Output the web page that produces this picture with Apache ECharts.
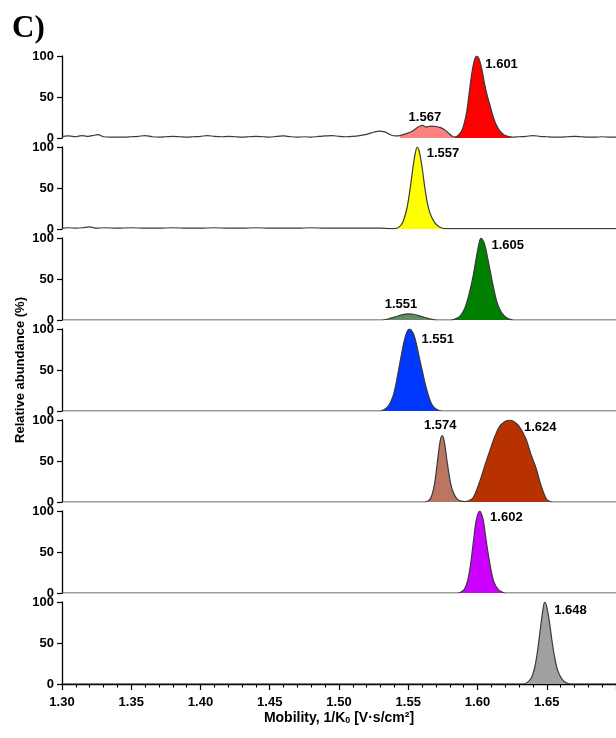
<!DOCTYPE html>
<html>
<head>
<meta charset="utf-8">
<script src="https://cdn.jsdelivr.net/npm/echarts@6/dist/echarts.min.js"></script>
<style>
html,body{margin:0;padding:0;background:#fff}
#main{width:616px;height:738px}
</style>
</head>
<body>
<div id="main"></div>
<script>
// x range of the mobility axis
var xMin = 1.30, xMax = 1.70;
var yTicks = [0, 50, 100];

// panel 1 : 1.567 (pink) + 1.601 (red), noisy baseline
var p1Left = [[1.300,2],[1.305,2.5],[1.310,1.5],[1.314,3],[1.318,2],[1.322,3],[1.326,4],[1.330,1.5],[1.335,1],[1.340,1],[1.345,1],[1.350,1.5],[1.355,2],[1.360,3],[1.365,1.5],[1.370,1],[1.375,1.5],[1.380,2],[1.385,1.5],[1.390,1],[1.395,1.5],[1.400,2],[1.405,3],[1.410,2],[1.415,1.5],[1.420,2],[1.425,1.5],[1.430,1],[1.435,1.5],[1.440,2],[1.445,1.5],[1.450,1],[1.455,2],[1.460,2.5],[1.465,1.5],[1.470,1],[1.475,1.5],[1.480,1],[1.485,2],[1.490,2.5],[1.495,3],[1.500,2],[1.505,1.5],[1.510,2],[1.515,3],[1.520,4.5],[1.525,7],[1.529,8.5],[1.533,7.5],[1.537,4],[1.541,2.5]];
var p1Pink = [[1.544,3],[1.548,5],[1.5525,8],[1.556,12],[1.559,15],[1.5605,15.5],[1.5625,13.5],[1.565,14],[1.567,14.5],[1.570,14],[1.5727,13],[1.576,10.5],[1.579,6],[1.5815,2.5],[1.5835,1]];
var p1Red = [[1.5835,1],[1.586,3],[1.589,10],[1.592,30],[1.594,55],[1.596,80],[1.598,96],[1.5995,100],[1.601,97],[1.603,85],[1.605,67],[1.607,52],[1.609,40],[1.611,28],[1.613,18],[1.616,9],[1.619,4],[1.622,2],[1.625,1]];
var p1Right = [[1.630,1.5],[1.635,2],[1.640,3],[1.645,2],[1.650,1.5],[1.655,1],[1.660,1],[1.665,1.5],[1.670,2],[1.675,1.5],[1.680,1],[1.685,1],[1.690,1.5],[1.695,1],[1.700,1]];

// panel 2 : 1.557 (yellow)
var p2Left = [[1.300,1],[1.305,1.5],[1.310,1],[1.315,1.5],[1.320,2.5],[1.325,1],[1.330,1.5],[1.340,1],[1.350,1.5],[1.360,1],[1.370,1],[1.380,1.5],[1.390,1],[1.400,1],[1.410,1.5],[1.420,1],[1.430,1],[1.440,1.5],[1.450,1],[1.460,1],[1.470,1],[1.480,1.5],[1.490,1],[1.500,1],[1.510,1],[1.520,1],[1.530,1],[1.537,0.5]];
var p2Yellow = [[1.540,0.5],[1.543,2],[1.546,8],[1.549,25],[1.551,45],[1.553,70],[1.555,92],[1.5565,100],[1.558,94],[1.560,75],[1.562,50],[1.564,30],[1.566,18],[1.569,8],[1.572,3],[1.576,0.5]];
var p2Right = [[1.590,0.5],[1.620,0.5],[1.660,0.5],[1.700,0.5]];

// panel 3 : 1.551 (grey green) + 1.605 (green)
var p3DkGreen = [[1.531,0],[1.536,1.5],[1.541,4],[1.546,6.5],[1.550,7.5],[1.554,7],[1.558,5],[1.562,3],[1.566,1.2],[1.571,0]];
var p3Green = [[1.581,0],[1.585,2],[1.588,6],[1.591,15],[1.594,32],[1.597,55],[1.600,84],[1.6025,100],[1.605,93],[1.608,70],[1.611,44],[1.614,22],[1.617,10],[1.620,4],[1.623,1],[1.626,0]];

// panel 4 : 1.551 (blue)
var p4Blue = [[1.530,0],[1.533,2],[1.536,7],[1.539,18],[1.541,32],[1.543,50],[1.545,68],[1.547,85],[1.549,96],[1.5505,100],[1.552,99],[1.554,93],[1.556,81],[1.558,65],[1.560,50],[1.562,35],[1.564,22],[1.566,12],[1.568,5.5],[1.571,1.5],[1.574,0]];

// panel 5 : 1.574 (brown) + 1.624 (dark red)
var p5Brown = [[1.562,0],[1.565,2],[1.567,8],[1.569,22],[1.571,48],[1.573,74],[1.5745,81],[1.576,74],[1.578,50],[1.580,28],[1.582,14],[1.585,4],[1.588,1],[1.5905,0.5]];
var p5DkRed = [[1.5905,0.5],[1.5933,1],[1.5968,5],[1.6016,25],[1.6052,44],[1.6088,62],[1.6123,79],[1.6159,92],[1.6195,98],[1.6231,100],[1.6265,98],[1.6302,92],[1.635,77],[1.6386,58],[1.6422,42],[1.6457,21],[1.6493,5],[1.6517,1],[1.655,0]];

// panel 6 : 1.602 (purple)
var p6Purple = [[1.586,0],[1.589,2],[1.591,6],[1.593,16],[1.595,35],[1.597,62],[1.599,88],[1.6015,100],[1.604,90],[1.606,67],[1.608,45],[1.610,26],[1.612,13],[1.615,4],[1.618,1],[1.620,0]];

// panel 7 : 1.648 (grey)
var p7Grey = [[1.633,0],[1.636,2],[1.639,8],[1.641,18],[1.643,36],[1.645,62],[1.647,88],[1.6485,100],[1.650,94],[1.652,75],[1.654,50],[1.656,30],[1.658,16],[1.661,6],[1.664,1.5],[1.667,0]];

var flatStart = [[1.300,0]];
var flatEnd = [[1.700,0]];

var panels = [
  {trace: p1Left.concat(p1Pink, p1Red, p1Right),
   peaks: [
     {data: p1Pink, color: '#ff8080', text: '1.567', at: [1.562, 15], pos: 'top', dist: 1, off: [0, 0]},
     {data: p1Red, color: '#ff0000', text: '1.601', at: [1.5995, 100], pos: 'right', dist: 5, off: [3, 8]}
   ]},
  {trace: p2Left.concat(p2Yellow, p2Right),
   peaks: [
     {data: p2Yellow, color: '#ffff00', text: '1.557', at: [1.5565, 100], pos: 'right', dist: 5, off: [4, 6]}
   ]},
  {trace: flatStart.concat(p3DkGreen, p3Green, flatEnd),
   peaks: [
     {data: p3DkGreen, color: '#668c66', text: '1.551', at: [1.5448, 8], pos: 'top', dist: 2, off: [0, 0]},
     {data: p3Green, color: '#008000', text: '1.605', at: [1.6025, 100], pos: 'right', dist: 5, off: [5, 7]}
   ]},
  {trace: flatStart.concat(p4Blue, flatEnd),
   peaks: [
     {data: p4Blue, color: '#0038ff', text: '1.551', at: [1.5505, 100], pos: 'right', dist: 5, off: [7, 10]}
   ]},
  {trace: flatStart.concat(p5Brown, p5DkRed, flatEnd),
   peaks: [
     {data: p5Brown, color: '#bc7560', text: '1.574', at: [1.5731, 81], pos: 'top', dist: 3, off: [0, 0]},
     {data: p5DkRed, color: '#b83200', text: '1.624', at: [1.6231, 100], pos: 'right', dist: 5, off: [9, 7]}
   ]},
  {trace: flatStart.concat(p6Purple, flatEnd),
   peaks: [
     {data: p6Purple, color: '#cc00ff', text: '1.602', at: [1.6015, 100], pos: 'right', dist: 5, off: [5, 6]}
   ]},
  {trace: flatStart.concat(p7Grey, flatEnd),
   peaks: [
     {data: p7Grey, color: '#a0a0a0', text: '1.648', at: [1.6485, 100], pos: 'right', dist: 5, off: [4, 8]}
   ]}
];

var font = 'Liberation Sans';
var grids = [], xAxes = [], yAxes = [], series = [];
var last = panels.length - 1;

panels.forEach(function (p, i) {
  grids.push({left: 62, width: 559, top: 56 + i * 91, height: 82, containLabel: false});
  var xa = {
    type: 'value', gridIndex: i, min: xMin, max: xMax, interval: 0.05,
    splitLine: {show: false}, show: i === last
  };
  if (i === last) {
    xa.offset = 1;
    xa.axisLine = {show: true, lineStyle: {color: '#000', width: 1.3}};
    xa.axisTick = {show: true, length: 6, lineStyle: {color: '#000', width: 1.2}};
    xa.minorTick = {show: true, splitNumber: 5, length: 3.5, lineStyle: {color: '#000', width: 1.1}};
    xa.minorSplitLine = {show: false};
    xa.axisLabel = {
      margin: 11, showMaxLabel: false, color: '#000', fontFamily: font,
      fontWeight: 'bold', fontSize: 13,
      formatter: function (v) { return v.toFixed(2); }
    };
    xa.name = 'Mobility, 1/K{sub|0} [V·s/cm²]';
    xa.nameLocation = 'middle';
    xa.nameGap = 26;
    xa.nameTextStyle = {
      color: '#000', fontFamily: font, fontWeight: 'bold', fontSize: 14,
      rich: {sub: {fontSize: 9, fontWeight: 'bold', fontFamily: font, color: '#000', verticalAlign: 'bottom', padding: [5, 0, 0, 0]}}
    };
  }
  xAxes.push(xa);
  yAxes.push({
    type: 'value', gridIndex: i, min: yTicks[0], max: yTicks[2], interval: 50,
    splitLine: {show: false},
    axisLine: {show: true, lineStyle: {color: '#000', width: 1.3}},
    axisTick: {show: true, length: 5, lineStyle: {color: '#000', width: 1.2}},
    axisLabel: {margin: 8, color: '#000', fontFamily: font, fontWeight: 'bold', fontSize: 13}
  });

  p.peaks.forEach(function (pk) {
    series.push({
      type: 'line', xAxisIndex: i, yAxisIndex: i, data: pk.data,
      smooth: 0.3, showSymbol: false, silent: true, z: 2,
      lineStyle: {width: 0},
      areaStyle: {color: pk.color, opacity: 1},
      markPoint: {
        symbol: 'circle', symbolSize: 1, itemStyle: {color: 'rgba(0,0,0,0)'},
        label: {
          show: true, position: pk.pos, distance: pk.dist, offset: pk.off,
          color: '#000', fontFamily: font, fontWeight: 'bold', fontSize: 13,
          formatter: pk.text
        },
        data: [{coord: pk.at}]
      }
    });
  });
  series.push({
    type: 'line', xAxisIndex: i, yAxisIndex: i, data: p.trace,
    smooth: 0.3, showSymbol: false, silent: true, z: 3,
    lineStyle: {color: '#3a3a3a', width: 1.2}
  });
});

var chart = echarts.init(document.getElementById('main'));
chart.setOption({
  animation: false,
  backgroundColor: '#fff',
  grid: grids,
  xAxis: xAxes,
  yAxis: yAxes,
  series: series,
  graphic: [
    {type: 'text', x: 12, y: 29, style: {text: 'C)', font: 'bold 31px "Liberation Serif"', fill: '#000', textVerticalAlign: 'middle'}},
    {type: 'text', x: 20, y: 370, rotation: Math.PI / 2,
     style: {text: 'Relative abundance (%)', font: 'bold 13px "Liberation Sans"', fill: '#000', textAlign: 'center', textVerticalAlign: 'middle'}}
  ]
});
</script>
</body>
</html>
